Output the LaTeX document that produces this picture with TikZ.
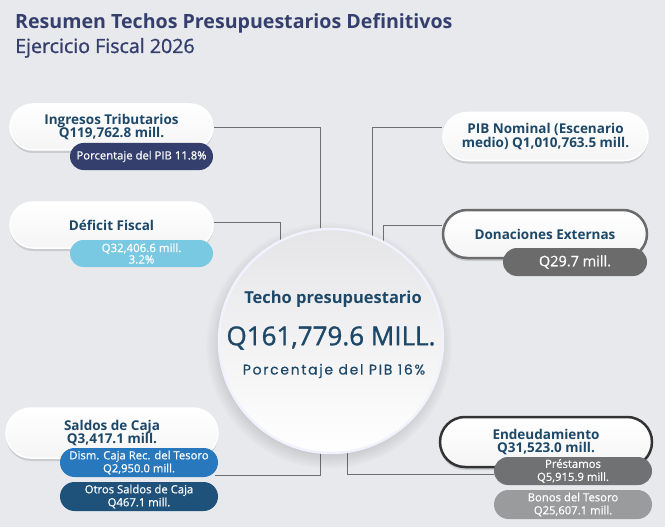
\documentclass[tikz,border=0pt]{standalone}
\usepackage{fontspec}
\setmainfont{Open Sans}
\newfontfamily\popfont[LetterSpace=12,FakeBold=0.4]{Poppins}
\newfontfamily\medfont[FakeBold=0.6]{Open Sans}
\newfontfamily\semifont[FakeBold=1.2]{Open Sans}
\usetikzlibrary{shadows,backgrounds,shapes.misc}
\definecolor{bgc}{HTML}{E8E9EC}
\definecolor{titlec}{HTML}{343F6E}
\definecolor{txtc}{HTML}{1D4868}
\definecolor{navy}{HTML}{343F6E}
\definecolor{sky}{HTML}{7AC9E3}
\definecolor{dgray}{HTML}{6B6B6B}
\definecolor{midblue}{HTML}{2878BE}
\definecolor{deepblue}{HTML}{1F527A}
\definecolor{gray1}{HTML}{6F7173}
\definecolor{gray2}{HTML}{9A9B9D}
\definecolor{linec}{HTML}{6E6E6E}
\tikzset{
  pill/.style={rounded rectangle, minimum width=#1, top color=white, bottom color=white!92!gray,
     draw=white, line width=1.5pt, inner sep=0pt, text=txtc,
     font=\fontsize{13.5}{13.5}\selectfont\bfseries, align=center,
     drop shadow={shadow xshift=0pt, shadow yshift=-3pt, opacity=0.12, fill=black}},
  subpill/.style={rounded rectangle, minimum width=#1, inner sep=0pt, text=white,
     font=\medfont\fontsize{11.3}{13}\selectfont, align=center},
  conn/.style={draw=linec, line width=1pt},
}
\begin{document}
\begin{tikzpicture}[x=1pt,y=-1pt]
\useasboundingbox (0,0) rectangle (665,527);
% title
\node[anchor=base west, text=titlec, font=\fontsize{19.6}{20}\selectfont\bfseries, inner sep=0pt] (t1) at (15,29) {Resumen Techos Presupuestarios Definitivos};
\node[anchor=base west, text=titlec, font=\semifont\fontsize{19.6}{20}\selectfont, inner sep=0pt] (t2) at (15,53) {Ejercicio Fiscal 2026};

% central circle
\node[circle, minimum size=224pt, inner sep=0pt, top color=white!90!blue!40!gray!30, bottom color=white,
      draw=white!95!blue, line width=2.5pt,
      circular drop shadow={shadow xshift=-2pt, shadow yshift=-4pt, opacity=0.15, fill=black}] (circ) at (331,341) {};
\node[text=txtc, font=\fontsize{16.5}{17}\selectfont\bfseries] (c1) at (333,299) {Techo presupuestario};
\node[text=txtc, font=\semifont\fontsize{26}{28}\selectfont] (c2) at (331,338) {Q161,779.6 MILL.};
\node[text=txtc, font=\popfont\fontsize{14}{15}\selectfont] (c3) at (334,371) {Porcentaje del PIB 16\%};

% Ingresos
\node[pill=203pt, minimum height=46pt] (ing) at (111.5,127) {Ingresos Tributarios\\Q119,762.8 mill.};
\node[subpill=143pt, minimum height=27pt, fill=navy] (ingp) at (141.5,156.5) {Porcentaje del PIB 11.8\%};

% Deficit
\node[pill=203pt, minimum height=46pt] (def) at (111.5,225) {Déficit Fiscal};
\node[subpill=143pt, minimum height=27pt, fill=sky, font=\medfont\fontsize{11.5}{11.5}\selectfont] (defp) at (141.5,253.5) {Q32,406.6 mill.\\3.2\%};

% PIB
\node[pill=205pt, minimum height=48pt] (pib) at (545.5,136.5) {PIB Nominal (Escenario\\medio) Q1,010,763.5 mill.};

% Donaciones
\node[pill=204pt, minimum height=48pt, draw=dgray, line width=2.5pt] (don) at (545,234) {Donaciones Externas};
\node[subpill=144pt, minimum height=28pt, fill=dgray, font=\medfont\fontsize{14.5}{15}\selectfont] (donp) at (575,262) {Q29.7 mill.};

% Saldos
\node[pill=212pt, minimum height=50pt] (sal) at (112,433) {Saldos de Caja\\Q3,417.1 mill.};
\node[subpill=158pt, minimum height=29pt, fill=midblue] (dism) at (139,462.5) {Dism. Caja Rec. del Tesoro\\Q2,950.0 mill.};
\node[subpill=158pt, minimum height=29pt, fill=deepblue] (otros) at (139,496.5) {Otros Saldos de Caja\\Q467.1 mill.};

% Endeudamiento
\node[pill=212pt, minimum height=50pt, draw=black!80, line width=2.5pt] (end) at (546,442) {Endeudamiento\\Q31,523.0 mill.};
\node[subpill=158pt, minimum height=28pt, fill=gray1] (pres) at (573,471) {Préstamos\\Q5,915.9 mill.};
\node[subpill=158pt, minimum height=29pt, fill=gray2] (bon) at (573,504.5) {Bonos del Tesoro\\Q25,607.1 mill.};

\begin{scope}[on background layer]
\fill[bgc] (0,0) rectangle (665,527);
\draw[conn] ([yshift=-1pt]ing.east) -| ([xshift=-11pt]circ.center);
\draw[conn] ([yshift=3pt]def.east) -| ([xshift=-51pt]circ.center);
\draw[conn] ([yshift=8.5pt]pib.west) -| ([xshift=41pt]circ.center);
\draw[conn] ([yshift=9pt]don.west) -| ([xshift=52pt]circ.center);
\draw[conn] ([yshift=-12.5pt,xshift=-3pt]dism.east) -| ([xshift=-11pt]circ.center);
\draw[conn] ([yshift=-3pt]pres.west) -| ([xshift=16pt]circ.center);
\end{scope}
\end{tikzpicture}
\end{document}
